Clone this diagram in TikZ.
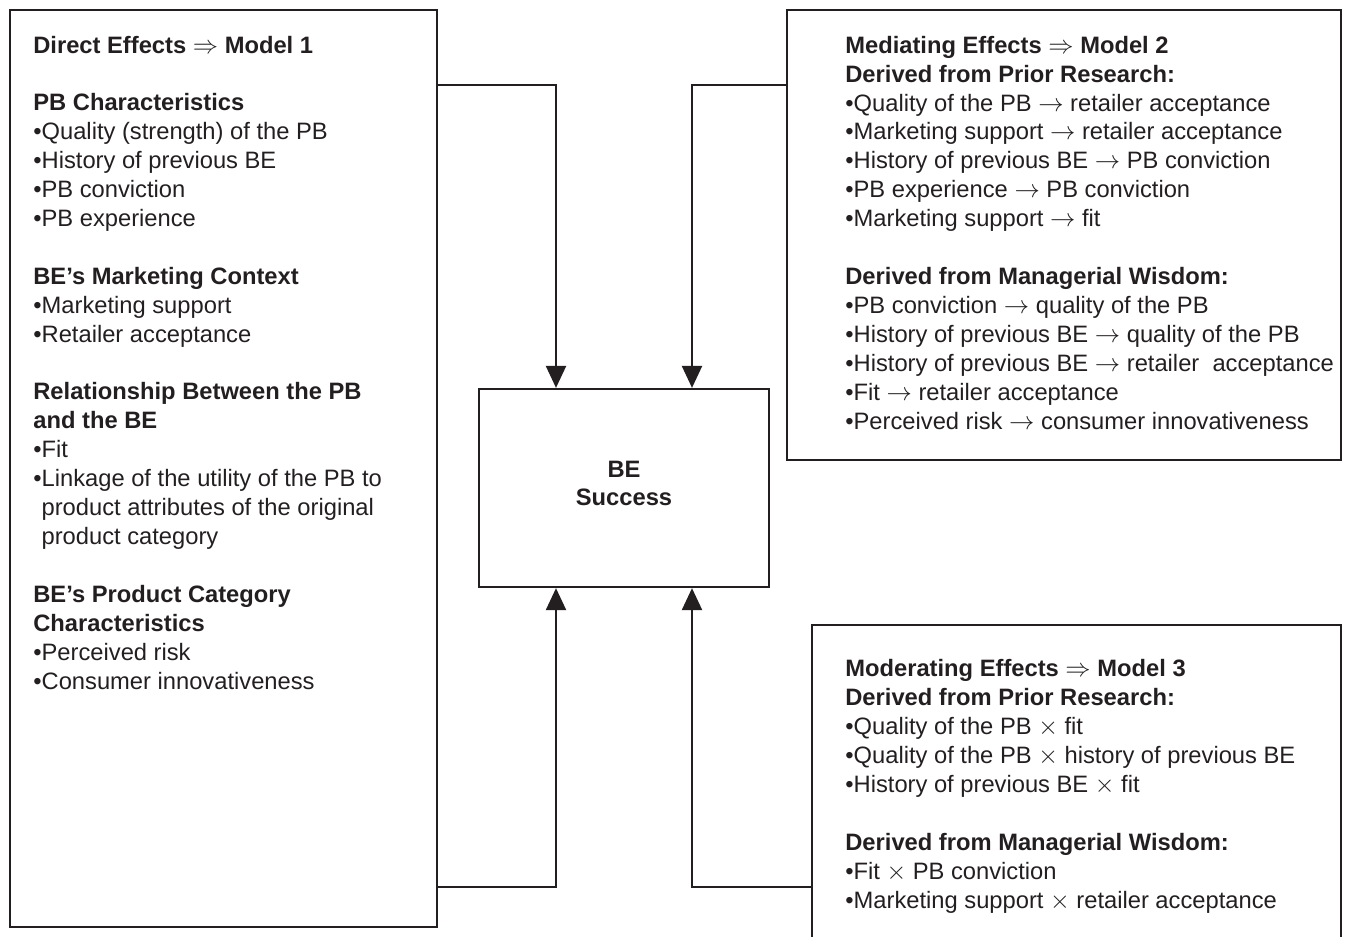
\documentclass[tikz,border=0pt]{standalone}
\usepackage{fontspec}
\setmainfont{Liberation Sans}
\usetikzlibrary{arrows.meta, positioning, calc}
\definecolor{ink}{RGB}{35,31,32}

\begin{document}
\begin{tikzpicture}[>={Triangle[length=4.4mm, width=4mm]}, x=0.2mm, y=-0.2mm,
    box/.style={draw=ink, line width=0.45mm, inner sep=0pt},
    txt/.style={anchor=base west, align=left, inner sep=0pt, text=ink,
                font=\fontsize{13.5pt}{16.45pt}\selectfont},
    conn/.style={->, draw=ink, line width=0.45mm}]
  \useasboundingbox (0,0) rectangle (1353,936);

  % Model 1: direct effects (base = last line)
  \node[box, minimum width=85.4mm, minimum height=183.4mm] (direct) at (223.5, 468.5) {};
  \node[txt] (directtxt) at (33, 689) {%
    \textbf{Direct Effects $\Rightarrow$ Model 1}\\[16.45pt]
    \textbf{PB Characteristics}\\
    •Quality (strength) of the PB\\
    •History of previous BE\\
    •PB conviction\\
    •PB experience\\[16.45pt]
    \textbf{BE’s Marketing Context}\\
    •Marketing support\\
    •Retailer acceptance\\[16.45pt]
    \textbf{Relationship Between the PB}\\
    \textbf{and the BE}\\
    •Fit\\
    •Linkage of the utility of the PB to\\
    \phantom{•}product attributes of the original\\
    \phantom{•}product category\\[16.45pt]
    \textbf{BE’s Product Category}\\
    \textbf{Characteristics}\\
    •Perceived risk\\
    •Consumer innovativeness};

  % Outcome
  \node[box, minimum width=58mm, minimum height=39.6mm, align=center, text=ink,
        font=\fontsize{13.5pt}{16pt}\selectfont\bfseries] (success) at (624, 488) {BE\\Success\\[-10.3pt]};

  % Model 2: mediating effects
  \node[box, minimum width=110.8mm, minimum height=90mm] (mediating) at (1064, 235) {};
  \node[txt] (mediatingtxt) at (845, 429) {%
    \textbf{Mediating Effects $\Rightarrow$ Model 2}\\
    \textbf{Derived from Prior Research:}\\
    •Quality of the PB $\rightarrow$ retailer acceptance\\
    •Marketing support $\rightarrow$ retailer acceptance\\
    •History of previous BE $\rightarrow$ PB conviction\\
    •PB experience $\rightarrow$ PB conviction\\
    •Marketing support $\rightarrow$ fit\\[16.45pt]
    \textbf{Derived from Managerial Wisdom:}\\
    •PB conviction $\rightarrow$ quality of the PB\\
    •History of previous BE $\rightarrow$ quality of the PB\\
    •History of previous BE $\rightarrow$ retailer\ \ acceptance\\
    •Fit $\rightarrow$ retailer acceptance\\
    •Perceived risk $\rightarrow$ consumer innovativeness};

  % Model 3: moderating effects (box runs off the bottom)
  \node[box, minimum width=105.8mm, minimum height=68mm] (moderating) at (1076.5, 795) {};
  \node[txt] (moderatingtxt) at (845, 908) {%
    \textbf{Moderating Effects $\Rightarrow$ Model 3}\\
    \textbf{Derived from Prior Research:}\\
    •Quality of the PB $\times$ fit\\
    •Quality of the PB $\times$ history of previous BE\\
    •History of previous BE $\times$ fit\\[16.45pt]
    \textbf{Derived from Managerial Wisdom:}\\
    •Fit $\times$ PB conviction\\
    •Marketing support $\times$ retailer acceptance};

  % connectors
  \draw[conn] (direct.east |- 0,85) -| ([xshift=-13.6mm]success.north);
  \draw[conn] (mediating.west |- 0,85) -| ([xshift=13.6mm]success.north);
  \draw[conn] (direct.east |- 0,887) -| ([xshift=-13.6mm]success.south);
  \draw[conn] (moderating.west |- 0,887) -| ([xshift=13.6mm]success.south);
\end{tikzpicture}
\end{document}
